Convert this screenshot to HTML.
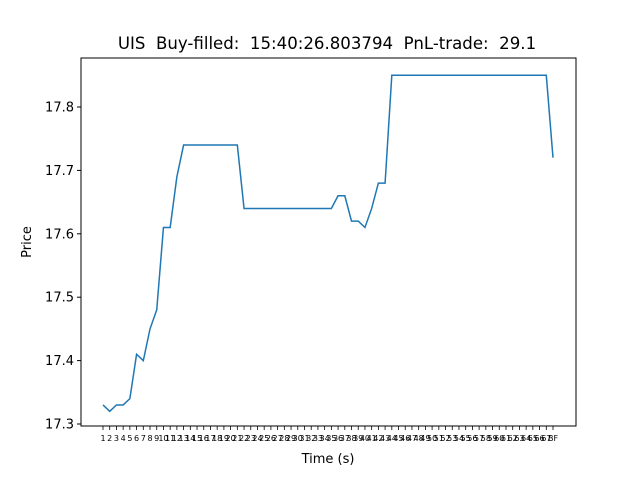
<!DOCTYPE html>
<html><head><meta charset="utf-8"><style>
body{margin:0;background:#fff}
svg text{font-family:"DejaVu Sans","Liberation Sans",sans-serif}
</style></head><body>
<svg width="640" height="480">
<rect width="640" height="480" fill="#fff"/>
<text x="327" y="49" font-size="16.6" text-anchor="middle" xml:space="preserve">UIS  Buy-filled:  15:40:26.803794  PnL-trade:  29.1</text>
<g id="yt"></g><g id="xt"></g>
<polyline id="line" fill="none" stroke="#1f77b4" stroke-width="1.5"/>
<rect x="81" y="58" width="495" height="368" fill="none" stroke="#000" stroke-width="1"/>
<text x="328" y="463" font-size="13" text-anchor="middle">Time (s)</text>
<text x="31" y="242" font-size="13" text-anchor="middle" transform="rotate(-90 31 242)">Price</text>
</svg>
<script>
const prices=[17.33,17.32,17.33,17.33,17.34,17.41,17.40,17.45,17.48,17.61,17.61,17.69,17.74,17.74,17.74,17.74,17.74,17.74,17.74,17.74,17.74,17.64,17.64,17.64,17.64,17.64,17.64,17.64,17.64,17.64,17.64,17.64,17.64,17.64,17.64,17.66,17.66,17.62,17.62,17.61,17.64,17.68,17.68,17.85,17.85,17.85,17.85,17.85,17.85,17.85,17.85,17.85,17.85,17.85,17.85,17.85,17.85,17.85,17.85,17.85,17.85,17.85,17.85,17.85,17.85,17.85,17.85,17.72];
const xLabels=[];for(let i=1;i<=67;i++)xLabels.push(String(i));xLabels.push("BF");
const yTicks=[17.3,17.4,17.5,17.6,17.7,17.8];
const ns="http://www.w3.org/2000/svg";
const xs=i=>103+i*(553-103)/(xLabels.length-1);
const ys=v=>424-(v-17.3)*(424-107)/0.5;
const yt=document.getElementById('yt'),xt=document.getElementById('xt');
yTicks.forEach(v=>{
 const l=document.createElementNS(ns,'line');
 l.setAttribute('x1',77);l.setAttribute('x2',81);l.setAttribute('y1',ys(v));l.setAttribute('y2',ys(v));l.setAttribute('stroke','#000');
 
 
 yt.appendChild(l);
 const t=document.createElementNS(ns,'text');
 t.setAttribute('x',74);t.setAttribute('y',ys(v)+4.5);t.setAttribute('font-size','13');t.setAttribute('text-anchor','end');t.textContent=v.toFixed(1);
 
 
 yt.appendChild(t);
});
xLabels.forEach((s,i)=>{
 const l=document.createElementNS(ns,'line');
 l.setAttribute('x1',xs(i));l.setAttribute('x2',xs(i));l.setAttribute('y1',426);l.setAttribute('y2',430);l.setAttribute('stroke','#000');l.setAttribute('stroke-width','0.8');
 
 
 xt.appendChild(l);
 const t=document.createElementNS(ns,'text');
 t.setAttribute('x',xs(i));t.setAttribute('y',441);t.setAttribute('font-size','8');t.setAttribute('text-anchor','middle');t.textContent=s;
 
 
 xt.appendChild(t);
});
document.getElementById('line').setAttribute('points',prices.map((p,i)=>xs(i)+','+ys(p)).join(' '));
</script>
</body></html>
